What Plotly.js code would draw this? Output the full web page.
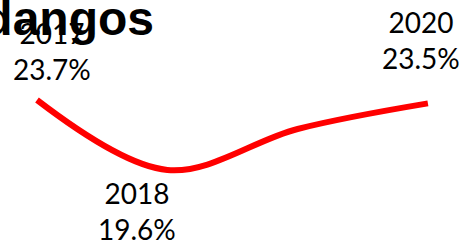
<!DOCTYPE html>
<html>
<head>
<meta charset="utf-8">
<script src="https://cdn.plot.ly/plotly-3.0.1.min.js"></script>
<style>html,body{margin:0;padding:0;background:#fff;}#chart{width:464px;height:243px;}</style>
</head>
<body>
<div id="chart"></div>
<script>
var years = [2017, 2018, 2019, 2020];
var values = [23.7, 19.6, 22.0, 23.5];
var labelYears = [2017, 2018, 2020];
var labelValues = [23.7, 19.6, 23.5];
var titleText = 'dangos';

var labelStyle = {
  2017: {xshift: 15, yshift: 12, yanchor: 'bottom'},
  2018: {xshift: -30, yshift: -4, yanchor: 'top'},
  2020: {xshift: -7, yshift: 26, yanchor: 'bottom'}
};

var annotations = labelYears.map(function (yr, i) {
  var s = labelStyle[yr];
  return {
    x: yr, y: labelValues[i], xref: 'x', yref: 'y',
    text: yr + '<br>' + labelValues[i].toFixed(1) + '%',
    showarrow: false, xanchor: 'center', yanchor: s.yanchor,
    xshift: s.xshift, yshift: s.yshift,
    font: {family: 'Lato, sans-serif', size: 28, color: '#000'}
  };
});

var trace = {
  x: years, y: values, type: 'scatter', mode: 'lines',
  line: {color: '#ff0000', width: 6, shape: 'spline', smoothing: 1},
  hoverinfo: 'skip'
};

var layout = {
  width: 464, height: 243,
  margin: {l: 0, r: 0, t: 0, b: 0},
  paper_bgcolor: '#fff', plot_bgcolor: '#fff',
  showlegend: false,
  title: {
    text: titleText, xref: 'container', yref: 'container',
    x: 154 / 464, xanchor: 'right', y: 0.993, yanchor: 'top',
    pad: {t: 0, l: 0, r: 0, b: 0},
    font: {family: '"Liberation Sans", Arial, sans-serif', size: 48, color: '#000', weight: 'bold'}
  },
  xaxis: {range: [2016.716, 2020.277], visible: false, fixedrange: true},
  yaxis: {range: [15.32, 29.56], visible: false, fixedrange: true},
  annotations: annotations
};

Plotly.newPlot('chart', [trace], layout, {displayModeBar: false, staticPlot: true});
</script>
</body>
</html>
